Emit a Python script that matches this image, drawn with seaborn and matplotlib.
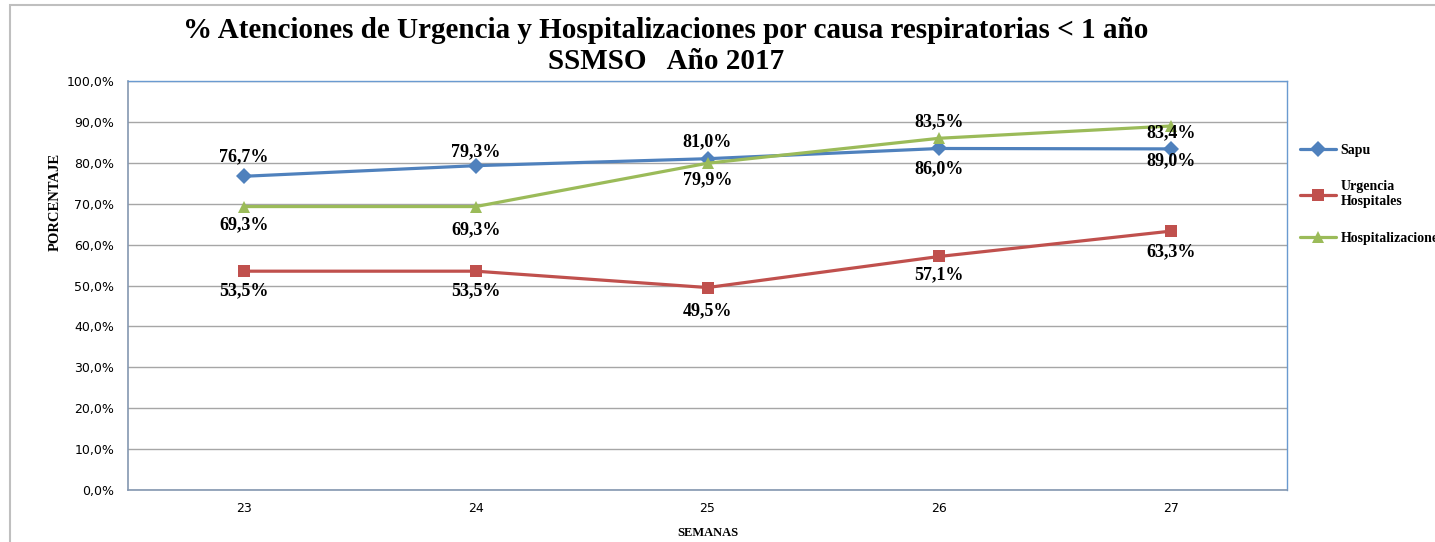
import numpy as np
import pandas as pd
import seaborn as sns
import matplotlib.pyplot as plt
from matplotlib.patches import Rectangle
from matplotlib.ticker import FuncFormatter

sns.set_theme(style="white")
plt.rcParams['font.family'] = ['DejaVu Sans']
plt.rcParams['text.color'] = 'black'
plt.rcParams['axes.labelcolor'] = 'black'

semanas = [23, 24, 25, 26, 27]
sapu = [76.7, 79.3, 81.0, 83.5, 83.4]
urgencia = [53.5, 53.5, 49.5, 57.1, 63.3]
hospitalizaciones = [69.3, 69.3, 79.9, 86.0, 89.0]

series = ['Sapu', 'Urgencia\nHospitales', 'Hospitalizaciones']
colores = ['#4F81BD', '#C0504D', '#9BBB59']
marcadores = ['D', 's', '^']

# desplazamiento vertical de las etiquetas de datos (puntos)
desplaz = {
    'Sapu': [14, 10, 12, 19, 11.5],
    'Urgencia\nHospitales': [-14, -14, -17, -13, -15],
    'Hospitalizaciones': [-13, -17, -12, -22, -25],
}

df = pd.DataFrame({
    'semana': semanas * 3,
    'valor': sapu + urgencia + hospitalizaciones,
    'serie': np.repeat(series, len(semanas)),
})

fig = plt.figure(figsize=(14.35, 5.42), dpi=100)
ax = fig.add_axes([128 / 1435, 1 - 490 / 542, (1287 - 128) / 1435, (490 - 81) / 542])

sns.lineplot(data=df, x='semana', y='valor', hue='serie', style='serie',
             palette=dict(zip(series, colores)),
             markers=dict(zip(series, marcadores)), dashes=False,
             linewidth=2.3, markersize=8, markeredgewidth=0, ax=ax)

serif = 'Liberation Serif'
for s, vals in zip(series, [sapu, urgencia, hospitalizaciones]):
    for x, v, dy in zip(semanas, vals, desplaz[s]):
        ax.annotate(f"{v:.1f}%".replace('.', ','), (x, v),
                    xytext=(0, dy), textcoords='offset points',
                    ha='center', va='center', fontsize=13,
                    fontweight='bold', family=serif, color='black')

ax.set_xlim(22.5, 27.5)
ax.set_ylim(0, 100)
ax.set_xticks(semanas)
ax.set_yticks(np.arange(0, 101, 10))
ax.yaxis.set_major_formatter(FuncFormatter(lambda v, p: f"{v:.1f}%".replace('.', ',')))
ax.tick_params(axis='y', length=4, width=0.8, color='#8497B0', labelsize=9,
               labelcolor='black', pad=6)
ax.tick_params(axis='x', length=0, labelsize=9, labelcolor='black', pad=9)
ax.grid(axis='y', color='#A6A6A6', linewidth=1)
ax.set_axisbelow(True)

for side in ['left', 'bottom']:
    ax.spines[side].set_color('#8497B0')
    ax.spines[side].set_linewidth(1.2)
for side in ['top', 'right']:
    ax.spines[side].set_color('#6A9AD0')
    ax.spines[side].set_linewidth(1)

ax.set_xlabel('SEMANAS', fontsize=9, fontweight='bold', family=serif, labelpad=8)
ax.set_ylabel('PORCENTAJE', fontsize=10.5, fontweight='bold', family=serif)
ax.yaxis.set_label_coords(-0.057, 0.704)

fig.text(666 / 1435, 1 - 46 / 542,
         '% Atenciones de Urgencia y Hospitalizaciones por causa respiratorias < 1 año\nSSMSO   Año 2017',
         ha='center', va='center', fontsize=21, fontweight='bold', family=serif,
         linespacing=1.22)

handles, labels = ax.get_legend_handles_labels()
leg = ax.legend(handles, labels, loc='upper left',
                frameon=False, prop={'family': serif, 'weight': 'bold', 'size': 10},
                handlelength=2.6, handletextpad=0.3, labelspacing=1.7,
                borderaxespad=0)
leg.set_bbox_to_anchor((1.0065, 0.86), transform=ax.transAxes)

fig.patches.append(Rectangle((10 / 1435, -0.1), 2, 1.1 - 5 / 542,
                             transform=fig.transFigure, fill=False,
                             edgecolor='#BFBFBF', linewidth=1.5))

fig.savefig('out.png', dpi=100)
